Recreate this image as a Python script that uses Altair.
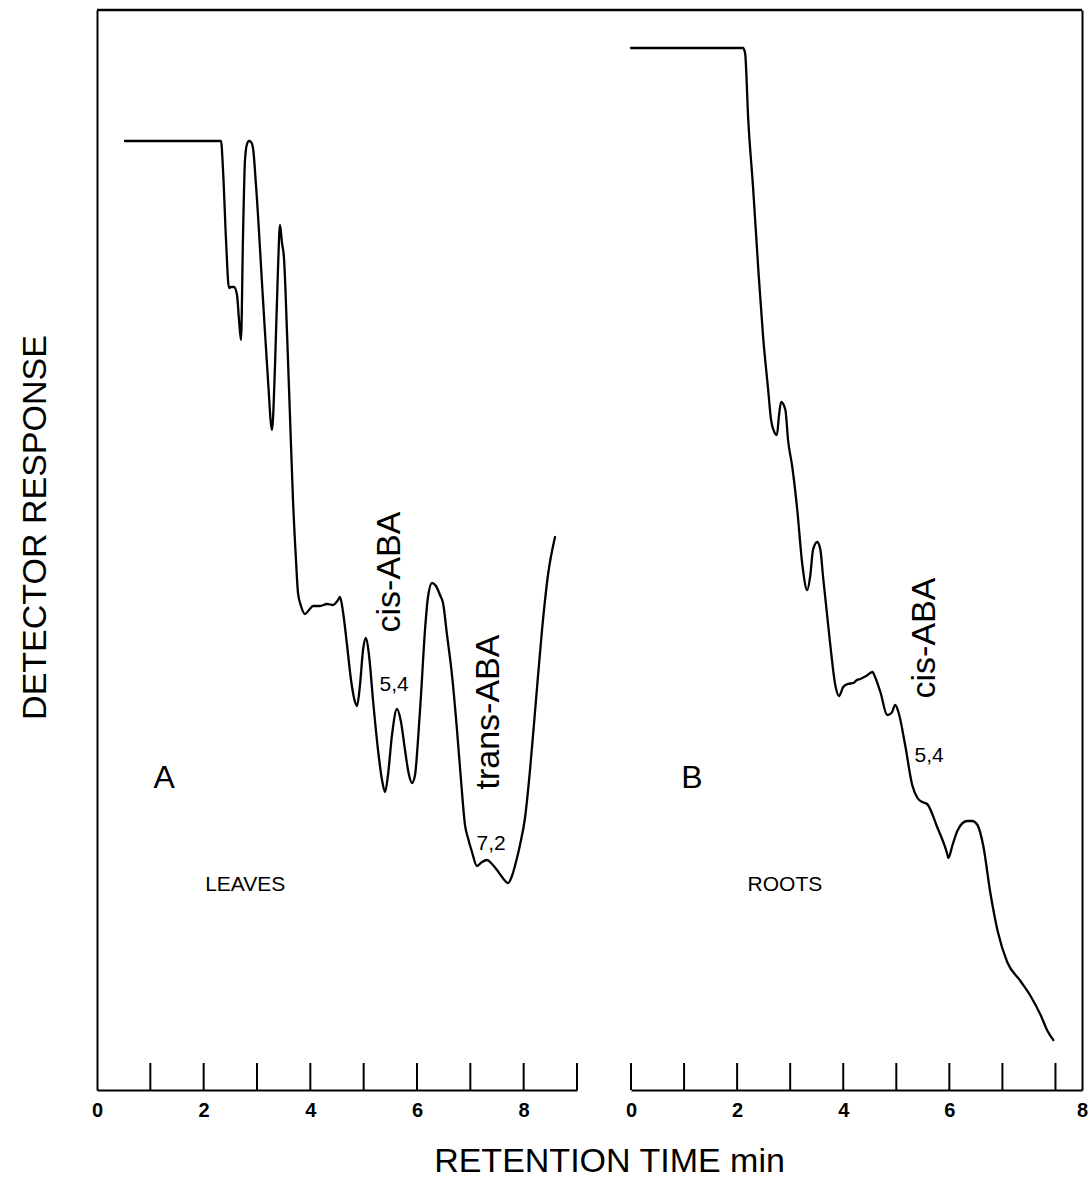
import altair as alt
import pandas as pd

FONT = "Liberation Sans"

# Panel A, leaf extract: retention time (min) and detector response (arbitrary units)
leaves_time = [0.525, 2.325, 2.363, 2.419, 2.475, 2.513, 2.569, 2.625, 2.663, 2.70,
               2.738, 2.775, 2.813, 2.85, 2.888, 2.925, 2.981, 3.113, 3.206, 3.281,
               3.338, 3.394, 3.431, 3.469, 3.506, 3.563, 3.619, 3.675, 3.731, 3.769,
               3.825, 3.90, 3.975, 4.05, 4.181, 4.313, 4.425, 4.519, 4.556, 4.613,
               4.688, 4.763, 4.838, 4.875, 4.931, 4.988, 5.044, 5.10, 5.175, 5.269,
               5.344, 5.40, 5.456, 5.531, 5.625, 5.70, 5.775, 5.85, 5.906, 5.963,
               6.019, 6.075, 6.15, 6.206, 6.281, 6.356, 6.431, 6.488, 6.563, 6.656,
               6.75, 6.825, 6.90, 6.956, 7.031, 7.125, 7.219, 7.313, 7.406, 7.50,
               7.594, 7.706, 7.781, 7.856, 7.931, 8.025, 8.119, 8.231, 8.344, 8.456,
               8.588]
leaves_resp = [94.9, 94.9, 92.0, 85.0, 80.2, 80.3, 80.3, 79.5, 77.0, 75.0,
               85.5, 93.0, 94.6, 94.9, 94.8, 94.2, 90.5, 79.0, 71.0, 66.0,
               72.5, 82.2, 86.5, 84.7, 83.2, 75.7, 67.3, 59.0, 53.0, 49.7,
               48.4, 47.6, 48.0, 48.4, 48.4, 48.6, 48.5, 49.0, 49.3, 47.8,
               44.5, 41.0, 38.8, 38.4, 40.5, 44.0, 45.2, 43.5, 39.0, 34.0,
               31.0, 29.8, 31.5, 35.5, 38.1, 36.8, 34.0, 31.5, 30.7, 31.5,
               35.0, 39.5, 46.0, 49.3, 50.7, 50.4, 49.5, 48.7, 45.5, 41.5,
               36.0, 31.0, 26.5, 25.2, 23.8, 22.4, 22.8, 23.0, 22.6, 22.0,
               21.3, 20.7, 21.4, 22.8, 24.5, 27.2, 32.0, 39.0, 46.0, 51.5,
               55.3]

# Panel B, root extract
roots_time = [0.0, 2.11, 2.15, 2.21, 2.30, 2.40, 2.49, 2.58, 2.64, 2.70,
              2.75, 2.79, 2.83, 2.91, 2.96, 3.04, 3.13, 3.23, 3.32, 3.38,
              3.43, 3.51, 3.57, 3.62, 3.75, 3.85, 3.92, 4.00, 4.09, 4.19,
              4.26, 4.32, 4.43, 4.55, 4.60, 4.70, 4.83, 4.91, 4.98, 5.04,
              5.17, 5.30, 5.40, 5.49, 5.58, 5.77, 5.96, 5.98, 6.06, 6.15,
              6.25, 6.34, 6.43, 6.53, 6.64, 6.77, 6.91, 7.09, 7.34, 7.53,
              7.72, 7.85, 7.96]
roots_resp = [104.2, 104.2, 103.7, 97.0, 90.3, 82.0, 75.3, 70.3, 67.0, 65.8,
              65.5, 67.5, 68.8, 68.0, 65.0, 62.3, 58.2, 52.5, 50.0, 51.5,
              54.0, 54.8, 54.0, 51.3, 44.8, 40.5, 39.4, 40.3, 40.6, 40.7,
              41.0, 41.1, 41.4, 41.8, 41.3, 39.8, 37.5, 37.7, 38.5, 37.8,
              34.4, 30.5, 29.2, 28.8, 28.6, 26.3, 23.6, 23.2, 24.5, 25.9,
              26.7, 26.9, 26.9, 26.5, 24.4, 19.8, 15.9, 12.8, 10.9, 9.4,
              7.5, 5.9, 5.0]

# Axis ticks and labels (minutes)
ticks_a = [1, 2, 3, 4, 5, 6, 7, 8, 9]
ticks_b = [0, 1, 2, 3, 4, 5, 6, 7, 8]
labels_a = [0, 2, 4, 6, 8]
labels_b = [0, 2, 4, 6, 8.5]

# Peak annotations: label, time, response
compounds_a = [("cis-ABA", 5.49, 51.8), ("trans-ABA", 7.35, 37.8)]
rt_a = [("5,4", 5.57, 40.5), ("7,2", 7.39, 24.6)]
compounds_b = [("cis-ABA", 5.54, 45.2)]
rt_b = [("5,4", 5.62, 33.4)]
panel_a_marks = [("A", 1.26, 31.2)]
panel_b_marks = [("B", 1.15, 31.2)]
sample_a = [("LEAVES", 2.78, 20.5)]
sample_b = [("ROOTS", 2.90, 20.5)]

W, H = 985, 1080
TICK_LEN = 27

x_a = alt.Scale(domain=[0, 9], range=[0, 480], nice=False, zero=False)
x_b = alt.Scale(domain=[0, 8.5], range=[534, W], nice=False, zero=False)
y_s = alt.Scale(domain=[0, 108], nice=False, zero=False)

common_x = dict(orient="bottom", ticks=False, tickSize=0, grid=False,
                labelFont=FONT, labelFontSize=20, labelFontWeight="bold",
                labelColor="black", labelPadding=10, labelFlush=False,
                labelOverlap=False)

ax_a_x = alt.Axis(values=labels_a, title="RETENTION TIME min",
                  titleFont=FONT, titleFontSize=34, titleFontWeight="normal",
                  titleColor="black", titleX=512, titleY=81,
                  titleAlign="center", titleBaseline="alphabetic", **common_x)
ax_b_x = alt.Axis(values=labels_b, labelExpr="datum.value > 8 ? '8' : datum.label",
                  title=None, **common_x)
ax_a_y = alt.Axis(orient="left", ticks=False, labels=False, grid=False,
                  title="DETECTOR RESPONSE", titleFont=FONT, titleFontSize=34,
                  titleFontWeight="normal", titleColor="black", titleAngle=270,
                  titleX=-62, titleY=517, titleAlign="center", titleBaseline="middle")
ax_b_y = alt.Axis(orient="right", ticks=False, labels=False, grid=False, title=None)


def text_df(items):
    return pd.DataFrame(items, columns=["label", "t", "r"])


def panel(time, resp, ticks, texts, xs, ax_x, ax_y):
    X = lambda f: alt.X(f, type="quantitative", scale=xs, axis=ax_x)
    Y = lambda f: alt.Y(f, type="quantitative", scale=y_s, axis=ax_y)

    trace = alt.Chart(pd.DataFrame({"t": time, "r": resp})).mark_line(
        color="black", strokeWidth=2.3, interpolate="monotone",
        strokeJoin="round", strokeCap="round"
    ).encode(x=X("t"), y=Y("r"), order=alt.Order("t:Q"))

    tick_marks = alt.Chart(pd.DataFrame({"t": ticks})).mark_rule(
        color="black", strokeWidth=2
    ).encode(x=X("t"), y=alt.value(H - TICK_LEN), y2=alt.value(H))

    layers = [trace, tick_marks]
    for items, style in texts:
        layers.append(
            alt.Chart(text_df(items)).mark_text(font=FONT, color="black", **style)
            .encode(x=X("t"), y=Y("r"), text="label:N")
        )
    return alt.layer(*layers)


compound_style = dict(fontSize=34, angle=270, align="center", baseline="middle")
rt_style = dict(fontSize=21, align="center", baseline="middle")
letter_style = dict(fontSize=32, align="center", baseline="middle")
sample_style = dict(fontSize=21, align="center", baseline="middle")

panel_a = panel(leaves_time, leaves_resp, ticks_a,
                [(compounds_a, compound_style), (rt_a, rt_style),
                 (panel_a_marks, letter_style), (sample_a, sample_style)],
                x_a, ax_a_x, ax_a_y)
panel_b = panel(roots_time, roots_resp, ticks_b,
                [(compounds_b, compound_style), (rt_b, rt_style),
                 (panel_b_marks, letter_style), (sample_b, sample_style)],
                x_b, ax_b_x, ax_b_y)

# Upper edge of the frame spanning both traces
top_edge = alt.Chart(pd.DataFrame({"edge": [0]})).mark_rule(
    color="black", strokeWidth=2.5
).encode(x=alt.value(0), x2=alt.value(W), y=alt.value(0))

chart = (
    alt.layer(panel_a, panel_b, top_edge)
    .resolve_scale(x="independent", y="independent")
    .properties(
        width=W, height=H,
        padding={"left": 97, "top": 10, "right": 8, "bottom": 90},
        autosize=alt.AutoSizeParams(type="none"),
        background="white",
    )
    .configure_view(stroke="transparent")
    .configure_axis(domainColor="black", domainWidth=2)
)

chart.save("out.html", embed_options={"renderer": "svg", "actions": False})
